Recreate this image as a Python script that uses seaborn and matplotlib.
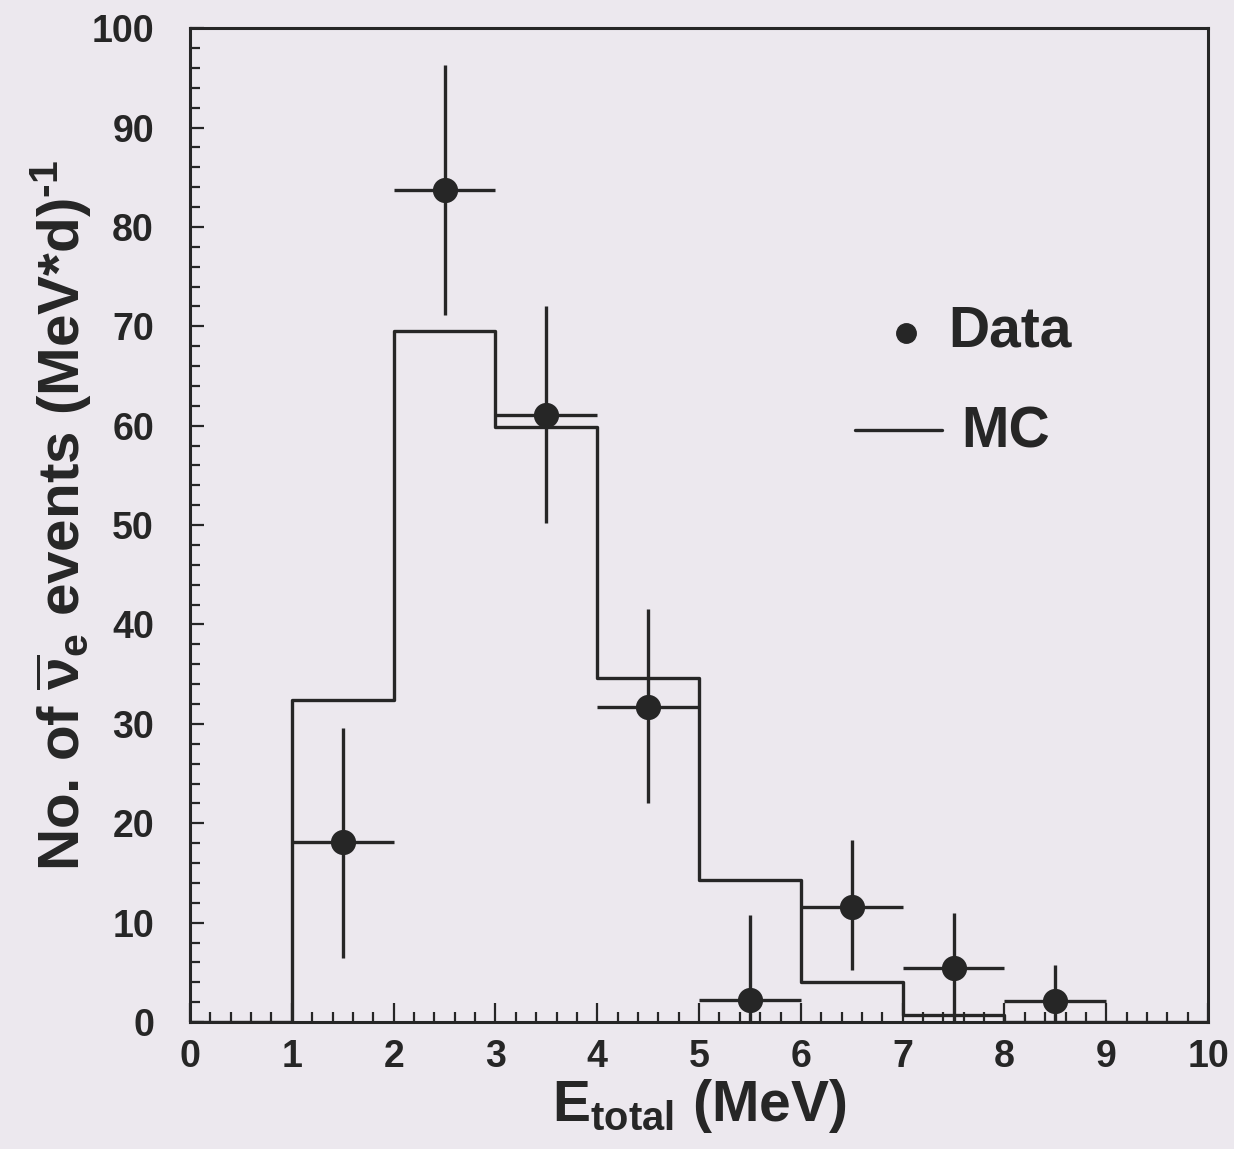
import numpy as np
import matplotlib
matplotlib.use("Agg")
import matplotlib.pyplot as plt
from matplotlib.ticker import MultipleLocator
import seaborn as sns

# ---- data ----
mc_edges = [0, 1, 2, 3, 4, 5, 6, 7, 8, 9, 10]
mc_values = [0.0, 32.4, 69.5, 59.9, 34.6, 14.3, 4.0, 0.7, 0.0, 0.0]

data_x = [1.5, 2.5, 3.5, 4.5, 5.5, 6.5, 7.5, 8.5]
data_y = [18.1, 83.7, 61.1, 31.7, 2.2, 11.6, 5.4, 2.1]
data_hi = [29.6, 96.3, 72.0, 41.6, 10.8, 18.3, 11.0, 5.7]
data_lo = [6.4, 71.1, 50.2, 22.0, 0.0, 5.2, 0.0, 0.0]
data_xerr = [0.5] * 8

bg = "#ece8ee"
ink = "#262626"

sns.set_theme(style="ticks")
plt.rcParams["font.family"] = ["Liberation Sans", "DejaVu Sans"]
plt.rcParams["font.weight"] = "bold"
plt.rcParams["mathtext.fontset"] = "custom"
plt.rcParams["mathtext.rm"] = "Liberation Sans:bold"
plt.rcParams["mathtext.it"] = "Liberation Sans:bold"
plt.rcParams["mathtext.bf"] = "Liberation Sans:bold"

fig = plt.figure(figsize=(12.34, 11.49), dpi=100, facecolor=bg)
ax = fig.add_axes([0.154, 0.1105, 0.825, 0.865], facecolor=bg)

# MC histogram
centers = [(a + b) / 2 for a, b in zip(mc_edges[:-1], mc_edges[1:])]
sns.histplot(x=centers, weights=mc_values, bins=mc_edges, element="step",
             fill=False, color=ink, linewidth=2.4, ax=ax)

# Data points with error bars
yerr = np.array([np.array(data_y) - np.array(data_lo),
                 np.array(data_hi) - np.array(data_y)])
ax.errorbar(data_x, data_y, xerr=data_xerr, yerr=yerr, fmt="none",
            ecolor=ink, elinewidth=2.4, capsize=0)
sns.scatterplot(x=data_x, y=data_y, color=ink, s=330, edgecolor=ink,
                linewidth=0, ax=ax, zorder=5)

ax.set_xlim(0, 10)
ax.set_ylim(0, 100)
ax.xaxis.set_major_locator(MultipleLocator(1))
ax.xaxis.set_minor_locator(MultipleLocator(0.2))
ax.yaxis.set_major_locator(MultipleLocator(10))
ax.yaxis.set_minor_locator(MultipleLocator(2))
ax.tick_params(axis="both", which="both", direction="in", top=False,
               right=False, colors=ink, width=1.6)
ax.tick_params(axis="x", which="major", length=14, pad=12, labelsize=27)
ax.tick_params(axis="x", which="minor", length=7)
ax.tick_params(axis="y", which="major", length=10, pad=26, labelsize=27)
ax.tick_params(axis="y", which="minor", length=7)
for lab in ax.get_xticklabels() + ax.get_yticklabels():
    lab.set_fontweight("bold")
for sp in ax.spines.values():
    sp.set_visible(True)
    sp.set_linewidth(2.2)
    sp.set_color(ink)

ax.set_xlabel(r"E$_{\mathrm{total}}$ (MeV)", fontsize=41, fontweight="bold",
              color=ink, labelpad=2)
ax.set_ylabel(r"No. of $\overline{\mathrm{\nu}}_{\mathrm{e}}$ events (MeV*d)$^{\mathrm{‐1}}$",
              fontsize=42, fontweight="bold", color=ink, labelpad=-2)
ax.yaxis.set_label_coords(-0.095, 0.51)

# Legend drawn by hand to match layout
ax.plot([0.703], [0.693], "o", color=ink, markersize=14, transform=ax.transAxes,
        clip_on=False)
ax.text(0.745, 0.695, "Data", transform=ax.transAxes, fontsize=41,
        fontweight="bold", va="center", ha="left", color=ink)
ax.plot([0.653, 0.739], [0.596, 0.596], "-", color=ink, linewidth=2.4,
        transform=ax.transAxes)
ax.text(0.758, 0.593, "MC", transform=ax.transAxes, fontsize=41,
        fontweight="bold", va="center", ha="left", color=ink)

fig.savefig("out.png", dpi=100, facecolor=bg)
